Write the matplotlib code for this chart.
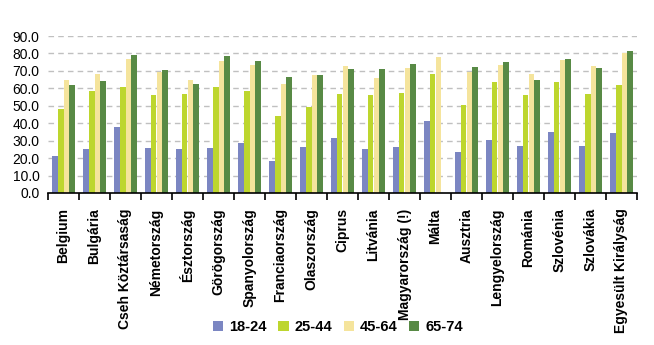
import matplotlib.pyplot as plt
import numpy as np

plt.rcParams['font.family'] = ['Liberation Sans', 'DejaVu Sans']

countries = ['Belgium', 'Bulgária', 'Cseh Köztársaság', 'Németország', 'Észtország',
             'Görögország', 'Spanyolország', 'Franciaország', 'Olaszország', 'Ciprus',
             'Litvánia', 'Magyarország (!)', 'Málta', 'Ausztria', 'Lengyelország',
             'Románia', 'Szlovénia', 'Szlovákia', 'Egyesült Királyság']
age_groups = ['18-24', '25-44', '45-64', '65-74']
v_18_24 = [21.4, 25.4, 37.9, 25.9, 25.4, 25.9, 28.8, 18.5, 26.5, 31.7,
           25.4, 26.5, 41.4, 23.6, 30.5, 27.1, 35.1, 27.1, 34.5]
v_25_44 = [48.2, 58.5, 60.8, 56.3, 56.8, 60.8, 58.5, 44.2, 49.4, 56.8,
           56.3, 57.4, 68.3, 50.5, 63.7, 56.3, 63.7, 56.8, 62.0]
v_45_64 = [64.8, 68.3, 76.8, 69.4, 64.8, 75.7, 73.4, 62.5, 67.7, 72.8,
           66.0, 71.7, 78.0, 69.4, 73.4, 68.3, 76.3, 72.8, 80.3]
v_65_74 = [62.0, 64.3, 79.1, 70.6, 62.5, 78.6, 75.7, 66.6, 67.7, 71.1,
           71.1, 74.0, 0.0, 72.3, 75.1, 64.8, 76.8, 71.7, 81.4]
colors = ['#7b86c2', '#bdd62e', '#f5e49c', '#588a45']

series = [v_18_24, v_25_44, v_45_64, v_65_74]
x = np.arange(len(countries))
w = 0.19

fig = plt.figure(figsize=(6.54, 3.45), dpi=100)
ax = fig.add_axes([48/654, 1 - 193/345, 589/654, 157/345])

for i, (vals, c, lab) in enumerate(zip(series, colors, age_groups)):
    ax.bar(x + (i - 1.5) * w, vals, width=w, color=c, label=lab, zorder=2)

ax.set_xlim(-0.5, len(countries) - 0.5)
ax.set_ylim(0, 90)
ax.set_yticks(np.arange(0, 91, 10))
ax.set_yticklabels(['%.1f' % v for v in np.arange(0, 91, 10)], fontsize=10)
ax.yaxis.grid(True, linestyle=(0, (4, 3)), color='#c0c0c0', linewidth=1, zorder=0)
ax.tick_params(axis='y', length=0, pad=6)

# category ticks sit between the groups
ax.set_xticks(np.arange(-0.5, len(countries) - 0.4, 1))
ax.set_xticklabels([])
ax.set_xticks(x, minor=True)
ax.set_xticklabels(countries, minor=True, rotation=90, fontsize=10, fontweight='bold')
ax.tick_params(axis='x', which='major', length=5, width=1.2, direction='out')
ax.tick_params(axis='x', which='minor', length=0, pad=11)

for s in ['top', 'right', 'left']:
    ax.spines[s].set_visible(False)
ax.spines['bottom'].set_linewidth(1.2)

leg = fig.legend(loc='center', bbox_to_anchor=(338/654, 1 - 327/345), ncol=4,
                 frameon=False, handlelength=0.7, handleheight=0.7,
                 handletextpad=0.4, columnspacing=0.8,
                 prop={'weight': 'bold', 'size': 10.5})

fig.savefig('out.png', dpi=100)
